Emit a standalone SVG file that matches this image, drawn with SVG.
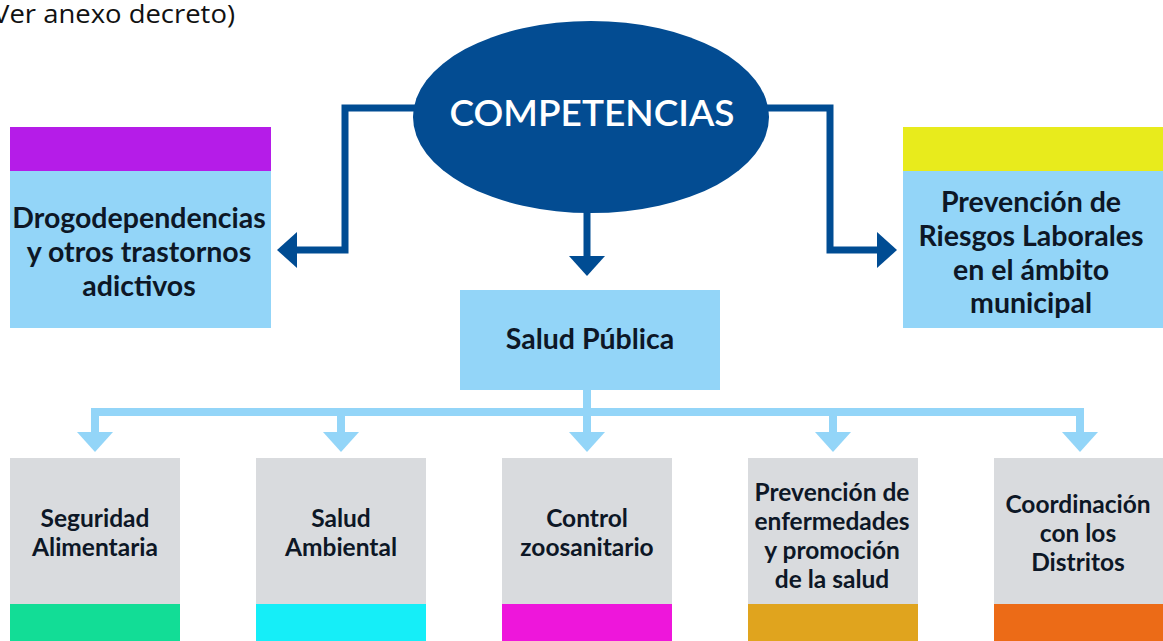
<svg xmlns="http://www.w3.org/2000/svg" width="1163" height="641" viewBox="0 0 1163 641">
<defs>
<style>
.t{font-family:Lato,"Open Sans","Liberation Sans",sans-serif;font-weight:700;fill:#0d1726;text-anchor:middle}
.tb{font-size:28.5px}
.ts{font-size:24.5px}
.blue{fill:#93d5f8}
.grey{fill:#d9dbde}
.dk{fill:none;stroke:#004c93;stroke-width:7}
.lb{fill:none;stroke:#93d5f8;stroke-width:8}
</style>
<marker id="ad" viewBox="0 -18 20 36" refX="1" refY="0" markerWidth="20" markerHeight="36" markerUnits="userSpaceOnUse" orient="auto"><path d="M0,-18 L20,0 L0,18 z" fill="#004c93"/></marker>
<marker id="al" viewBox="0 -18 20 36" refX="1" refY="0" markerWidth="20" markerHeight="36" markerUnits="userSpaceOnUse" orient="auto"><path d="M0,-18 L20,0 L0,18 z" fill="#93d5f8"/></marker>
</defs>
<rect width="1163" height="641" fill="#ffffff"/>
<text x="235" y="23" font-family="'Open Sans','Liberation Sans',sans-serif" font-size="25.5" fill="#111" text-anchor="end" textLength="250" lengthAdjust="spacingAndGlyphs">(Ver anexo decreto)</text>
<g id="connectors">
<polyline class="dk" points="430,108 345,108 345,250 296,250" marker-end="url(#ad)"/>
<polyline class="dk" points="587,200 587,257" marker-end="url(#ad)"/>
<polyline class="dk" points="755,108 830,108 830,250 878,250" marker-end="url(#ad)"/>
<line class="lb" x1="587" y1="390" x2="587" y2="412"/>
<line class="lb" x1="91" y1="412" x2="1084" y2="412"/>
<polyline class="lb" points="95,408 95,433" marker-end="url(#al)"/>
<polyline class="lb" points="341,408 341,433" marker-end="url(#al)"/>
<polyline class="lb" points="587,408 587,433" marker-end="url(#al)"/>
<polyline class="lb" points="833,408 833,433" marker-end="url(#al)"/>
<polyline class="lb" points="1080,408 1080,433" marker-end="url(#al)"/>
</g>
<g id="competencias">
<ellipse cx="591" cy="117" rx="178" ry="96" fill="#034c92"/>
<text x="592" y="126" font-family="Lato,'Open Sans','Liberation Sans',sans-serif" font-size="37" font-weight="600" fill="#ffffff" text-anchor="middle">COMPETENCIAS</text>
</g>
<g id="drogodependencias">
<rect x="10" y="127" width="261" height="44" fill="#b51ce8"/>
<rect class="blue" x="10" y="171" width="261" height="157"/>
<text class="t tb" x="139" y="228">Drogodependencias</text>
<text class="t tb" x="139" y="262">y otros trastornos</text>
<text class="t tb" x="139" y="296">adictivos</text>
</g>
<g id="riesgos">
<rect x="903" y="127" width="260" height="44" fill="#e8eb1c"/>
<rect class="blue" x="903" y="171" width="260" height="157"/>
<text class="t tb" x="1031" y="212">Prevención de</text>
<text class="t tb" x="1031" y="246">Riesgos Laborales</text>
<text class="t tb" x="1031" y="280">en el ámbito</text>
<text class="t tb" x="1031" y="313">municipal</text>
</g>
<g id="salud-publica">
<rect class="blue" x="460" y="290" width="260" height="100"/>
<text class="t tb" x="590" y="349">Salud Pública</text>
</g>
<g id="seguridad">
<rect class="grey" x="10" y="458" width="170" height="146"/>
<rect x="10" y="604" width="170" height="37" fill="#12dd96"/>
<text class="t ts" x="95" y="527">Seguridad</text>
<text class="t ts" x="95" y="556">Alimentaria</text>
</g>
<g id="ambiental">
<rect class="grey" x="256" y="458" width="170" height="146"/>
<rect x="256" y="604" width="170" height="37" fill="#15eef8"/>
<text class="t ts" x="341" y="527">Salud</text>
<text class="t ts" x="341" y="556">Ambiental</text>
</g>
<g id="zoosanitario">
<rect class="grey" x="502" y="458" width="170" height="146"/>
<rect x="502" y="604" width="170" height="37" fill="#ee16db"/>
<text class="t ts" x="587" y="527">Control</text>
<text class="t ts" x="587" y="556">zoosanitario</text>
</g>
<g id="prevencion">
<rect class="grey" x="748" y="458" width="170" height="146"/>
<rect x="748" y="604" width="170" height="37" fill="#e0a41e"/>
<text class="t ts" x="832" y="501">Prevención de</text>
<text class="t ts" x="832" y="530">enfermedades</text>
<text class="t ts" x="832" y="559">y promoción</text>
<text class="t ts" x="832" y="588">de la salud</text>
</g>
<g id="coordinacion">
<rect class="grey" x="994" y="458" width="169" height="146"/>
<rect x="994" y="604" width="169" height="37" fill="#ec6b17"/>
<text class="t ts" x="1078" y="513">Coordinación</text>
<text class="t ts" x="1078" y="542">con los</text>
<text class="t ts" x="1078" y="571">Distritos</text>
</g>
</svg>
